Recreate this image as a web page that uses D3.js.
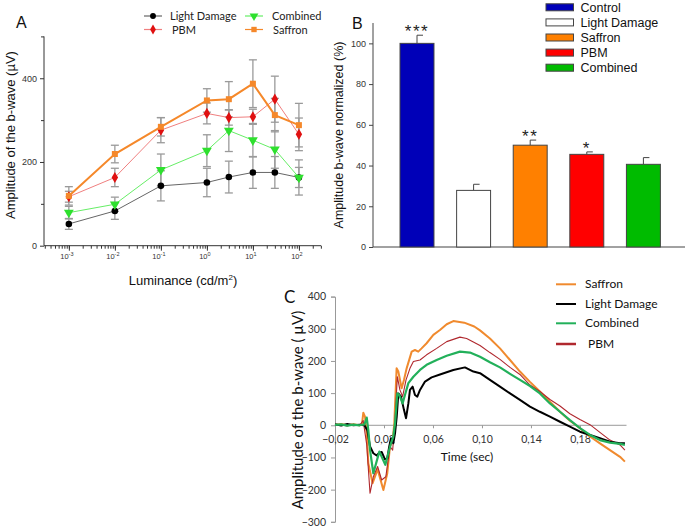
<!DOCTYPE html>
<html><head><meta charset="utf-8">
<script src="https://cdn.jsdelivr.net/npm/d3@7"></script>
<style>body{margin:0;background:#fff}svg{display:block}</style>
</head><body>
<svg id="c" width="689" height="529"></svg>
<script>
// ---------- Panel A data ----------
const luminance = [0.001, 0.01, 0.1, 1, 3, 10, 30, 100];
const decadeTicks = [-3, -2, -1, 0, 1, 2];
const ldA = [52, 83, 143, 151, 164, 175, 175, 163];
const ldErr = [13, 20, 36, 34, 38, 38, 38, 42];
const pbmA = [117, 163, 276, 316, 306, 308, 350, 266];
const pbmErr = [13, 22, 30, 25, 18, 18, 55, 39];
const combA = [79, 99, 181, 227, 275, 252, 230, 163];
const combErr = [15, 17, 38, 38, 50, 40, 45, 24];
const saffA = [119, 219, 284, 347, 350, 387, 312, 288];
const saffErr = [22, 21, 22, 28, 42, 57, 40, 52];
const yTicksA = [0, 200, 400];
const yMinorA = [100, 300, 500];

// ---------- Panel B data ----------
const groupsB = ["Control", "Light Damage", "Saffron", "PBM", "Combined"];
const valuesB = [100, 27.8, 50, 45.5, 40.6];
const errB = [4, 3, 2.5, 1.2, 3.3];
const starsB = ["***", "", "**", "*", ""];
const colorsB = ["#0000b8", "#ffffff", "#ff8000", "#ff0000", "#00bb00"];
const yTicksB = [0, 20, 40, 60, 80, 100];

// ---------- Panel C data ([time s, amplitude µV]) ----------
const saffronC = [[-0.02,2],[-0.015,4],[-0.01,0],[-0.005,3],[0,0],[0.002,2],[0.0031,39],[0.0045,27],[0.0059,-25],[0.0072,-118],[0.0107,-180],[0.0148,-137],[0.0195,-201],[0.0227,-149],[0.0249,-66],[0.0271,-46],[0.0284,6],[0.0303,177],[0.0317,167],[0.0344,115],[0.0363,141],[0.0385,177],[0.0426,229],[0.0453,234],[0.048,229],[0.0507,239],[0.0548,255],[0.0603,281],[0.0657,296],[0.0712,314],[0.0766,324],[0.0855,319],[0.0937,307],[0.0984,295],[0.1065,270],[0.1147,239],[0.1229,203],[0.131,167],[0.1392,135],[0.1473,105],[0.1555,73],[0.1637,42],[0.1718,14],[0.18,-9],[0.1882,-35],[0.1963,-56],[0.2045,-77],[0.2127,-98],[0.2167,-113]];
const lightDamageC = [[-0.02,3],[-0.015,-1],[-0.01,4],[-0.005,0],[0,2],[0.004,0],[0.0064,-15],[0.0086,-66],[0.0113,-87],[0.014,-94],[0.0162,-85],[0.0181,-83],[0.0208,-106],[0.0227,-103],[0.0243,-66],[0.0257,-40],[0.0276,-56],[0.029,-25],[0.0304,27],[0.0317,99],[0.0339,89],[0.0363,48],[0.038,22],[0.0399,68],[0.0412,110],[0.0434,120],[0.0453,94],[0.0472,89],[0.0494,110],[0.0535,136],[0.0589,149],[0.0657,158],[0.0766,172],[0.0861,180],[0.093,167],[0.0984,162],[0.1065,141],[0.1147,120],[0.1229,99],[0.131,79],[0.1392,58],[0.1473,42],[0.1555,27],[0.1637,11],[0.1718,-4],[0.18,-20],[0.1882,-30],[0.1963,-40],[0.2045,-51],[0.2127,-56],[0.2167,-56]];
const combinedC = [[-0.02,1],[-0.015,3],[-0.01,-1],[-0.005,2],[0,0],[0.004,3],[0.0059,24],[0.0072,-15],[0.0086,-77],[0.0113,-149],[0.0162,-82],[0.0211,-123],[0.0235,-87],[0.0257,-56],[0.0276,-35],[0.029,6],[0.0309,99],[0.0325,94],[0.0352,68],[0.0371,94],[0.0399,131],[0.044,151],[0.0494,172],[0.0548,188],[0.063,203],[0.0712,216],[0.082,229],[0.0902,226],[0.0984,213],[0.1065,196],[0.1147,180],[0.1229,160],[0.131,141],[0.1392,122],[0.1473,99],[0.1555,68],[0.1637,42],[0.1718,16],[0.18,-9],[0.1882,-30],[0.1963,-46],[0.2045,-54],[0.2127,-58],[0.2167,-61]];
const pbmC = [[-0.02,0],[-0.015,2],[-0.01,-2],[-0.005,3],[0,-1],[0.003,15],[0.0059,-60],[0.0086,-211],[0.0113,-160],[0.0148,-128],[0.0181,-170],[0.0215,-160],[0.0249,-66],[0.0271,-77],[0.029,17],[0.0309,151],[0.033,110],[0.0352,89],[0.038,141],[0.0412,177],[0.044,198],[0.0494,203],[0.0548,219],[0.063,239],[0.0712,260],[0.082,274],[0.0875,270],[0.0984,248],[0.1065,226],[0.1147,205],[0.1229,180],[0.131,158],[0.1392,125],[0.1473,105],[0.1555,80],[0.1637,60],[0.1718,36],[0.18,18],[0.1882,2],[0.1963,-22],[0.2045,-46],[0.2127,-61],[0.2167,-77]];
const xTicksC = [-0.02, 0.02, 0.06, 0.10, 0.14, 0.18];
const yTicksC = [400, 300, 200, 100, 0, -100, -200, -300];

const svg = d3.select("#c");
svg.append("rect").attr("width",689).attr("height",529).attr("fill","#fff");
const ARIAL = "'Liberation Sans', Arial, sans-serif";
const CALIBRI = "Lato, 'Open Sans', sans-serif";

// =================== PANEL A ===================
const xA = d3.scaleLog().domain([Math.pow(10,-3.54), Math.pow(10,2.48)]).range([44, 321]);
const yA = d3.scaleLinear().domain([0, 500]).range([245.7, 36.4]);
const gA = svg.append("g");

const axA = gA.append("g").attr("transform","translate(0,245.7)")
  .call(d3.axisBottom(xA).tickValues(xA.ticks()).tickSize(3).tickFormat(""));
axA.select(".domain").attr("d","M44,0H321");
gA.append("g").attr("transform","translate(0,245.7)")
  .call(d3.axisBottom(xA).tickValues(decadeTicks.map(d=>Math.pow(10,d))).tickSize(5).tickFormat(""))
  .select(".domain").remove();
const ayA = gA.append("g").attr("transform","translate(44,0)")
  .call(d3.axisLeft(yA).tickValues(yTicksA).tickSize(4).tickPadding(3));
ayA.select(".domain").attr("d","M0,245.7V36.4");
gA.append("g").attr("transform","translate(44,0)")
  .call(d3.axisLeft(yA).tickValues(yMinorA).tickSize(3).tickFormat(""))
  .select(".domain").remove();
gA.selectAll(".tick line, .domain").attr("stroke","#333").attr("stroke-width",1);
ayA.selectAll("text").attr("font-family",ARIAL).attr("font-size",9).attr("fill","#333");

const decLab = gA.append("g").selectAll("text").data(decadeTicks).join("text")
  .attr("x", d => xA(Math.pow(10,d)) - 2).attr("y", 259)
  .attr("text-anchor","middle").attr("font-family",ARIAL).attr("font-size",7.5).attr("fill","#333");
decLab.append("tspan").text("10");
decLab.append("tspan").attr("dy",-3).attr("font-size",5.5).text(d => d);

gA.append("text").attr("x",183).attr("y",285).attr("text-anchor","middle")
  .attr("font-family",ARIAL).attr("font-size",13).attr("fill","#111")
  .call(t => { t.append("tspan").text("Luminance (cd/m"); t.append("tspan").attr("dy",-5).attr("font-size",8).text("2"); t.append("tspan").attr("dy",5).text(")"); });
gA.append("text").attr("transform","translate(15,135) rotate(-90)").attr("text-anchor","middle")
  .attr("font-family",ARIAL).attr("font-size",13).attr("fill","#111").text("Amplitude of the b-wave (µV)");
gA.append("text").attr("x",16).attr("y",28).attr("font-family",ARIAL).attr("font-size",16).attr("fill","#111").text("A");

const seriesA = [
  {name:"Light Damage", vals:ldA, err:ldErr, line:"#666", lw:1, mark:"#000", sym:d3.symbolCircle, size:34},
  {name:"Combined", vals:combA, err:combErr, line:"#66ee66", lw:1, mark:"#2ee02e", sym:d3.symbolTriangle, size:42, rot:180},
  {name:"PBM", vals:pbmA, err:pbmErr, line:"#f07f7f", lw:1, mark:"#e01010", sym:d3.symbolDiamond, size:36},
  {name:"Saffron", vals:saffA, err:saffErr, line:"#f5882a", lw:2, mark:"#f5882a", sym:d3.symbolSquare, size:36}
];
seriesA.forEach(s => {
  const eg = gA.append("g").attr("stroke","#9a9a9a").attr("stroke-width",1.3);
  luminance.forEach((x,i) => {
    const cx = xA(x), y1 = yA(s.vals[i]+s.err[i]), y0 = yA(s.vals[i]-s.err[i]);
    eg.append("line").attr("x1",cx).attr("x2",cx).attr("y1",y1).attr("y2",y0);
    eg.append("line").attr("x1",cx-4).attr("x2",cx+4).attr("y1",y1).attr("y2",y1);
    eg.append("line").attr("x1",cx-4).attr("x2",cx+4).attr("y1",y0).attr("y2",y0);
  });
});
const lineA = d3.line().x((d,i)=>xA(luminance[i])).y(d=>yA(d));
seriesA.forEach(s => {
  gA.append("path").attr("d",lineA(s.vals)).attr("fill","none").attr("stroke",s.line).attr("stroke-width",s.lw);
});
seriesA.forEach(s => {
  gA.append("g").selectAll("path").data(s.vals).join("path")
    .attr("d", d3.symbol().type(s.sym).size(s.size))
    .attr("transform",(d,i)=>`translate(${xA(luminance[i])},${yA(d)})${s.rot?" rotate(180)":""}`)
    .attr("fill",s.mark);
});
const legA = [
  {s:seriesA[0], x:144, y:16, tx:170},
  {s:seriesA[2], x:144, y:29.5, tx:172},
  {s:seriesA[1], x:245, y:16, tx:272},
  {s:seriesA[3], x:245, y:29.5, tx:273}
];
legA.forEach(l => {
  gA.append("line").attr("x1",l.x).attr("x2",l.x+18).attr("y1",l.y).attr("y2",l.y).attr("stroke",l.s.line).attr("stroke-width",1.2);
  gA.append("path").attr("d",d3.symbol().type(l.s.sym).size(l.s.size*0.8)())
    .attr("transform",`translate(${l.x+9},${l.y})${l.s.rot?" rotate(180)":""}`).attr("fill",l.s.mark);
  gA.append("text").attr("x",l.tx).attr("y",l.y+4).attr("font-family",CALIBRI).attr("font-size",11).attr("fill","#222").text(l.s.name);
});

// =================== PANEL B ===================
const xB = d3.scaleBand().domain(groupsB).range([388.7, 671.7]).paddingInner(0.4).paddingOuter(0.2);
const yB = d3.scaleLinear().domain([0, 110]).range([247, 23]);
const gB = svg.append("g");
const ayB = gB.append("g").attr("transform","translate(373,0)")
  .call(d3.axisLeft(yB).tickValues(yTicksB).tickSize(4).tickPadding(3));
ayB.select(".domain").attr("d","M0,247V23");
ayB.selectAll("line,.domain").attr("stroke","#444");
ayB.selectAll("text").attr("font-family",ARIAL).attr("font-size",9).attr("fill","#333");
gB.append("line").attr("x1",373).attr("x2",685).attr("y1",247).attr("y2",247).attr("stroke","#444");

groupsB.forEach((g,i) => {
  const cx = xB(g) + xB.bandwidth()/2;
  gB.append("line").attr("x1",cx).attr("x2",cx).attr("y1",yB(valuesB[i])).attr("y2",yB(valuesB[i]+errB[i])).attr("stroke","#444");
  gB.append("line").attr("x1",cx).attr("x2",cx+6).attr("y1",yB(valuesB[i]+errB[i])).attr("y2",yB(valuesB[i]+errB[i])).attr("stroke","#444");
});
gB.selectAll("rect.bar").data(groupsB).join("rect").attr("class","bar")
  .attr("x",d=>xB(d)).attr("width",xB.bandwidth())
  .attr("y",(d,i)=>yB(valuesB[i])).attr("height",(d,i)=>yB(0)-yB(valuesB[i]))
  .attr("fill",(d,i)=>colorsB[i]).attr("stroke","#444").attr("stroke-width",1);
gB.selectAll("text.star").data(groupsB).join("text").attr("class","star")
  .attr("x",d=>xB(d)+xB.bandwidth()/2).attr("y",(d,i)=>yB(valuesB[i]+errB[i])+2)
  .attr("text-anchor","middle").attr("font-family",ARIAL).attr("font-size",17).attr("letter-spacing",1.5).attr("fill","#222")
  .text((d,i)=>starsB[i]);
gB.append("text").attr("transform","translate(343,135) rotate(-90)").attr("text-anchor","middle")
  .attr("font-family",ARIAL).attr("font-size",12.5).attr("fill","#111").text("Amplitude b-wave normalized (%)");
gB.append("text").attr("x",352).attr("y",29).attr("font-family",ARIAL).attr("font-size",16).attr("fill","#111").text("B");
groupsB.forEach((g,i) => {
  const y = 7.3 + i*15.1;
  gB.append("rect").attr("x",546).attr("y",y-3.5).attr("width",27.5).attr("height",7).attr("fill",colorsB[i]).attr("stroke","#444");
  gB.append("text").attr("x",580.5).attr("y",y+4.5).attr("font-family",ARIAL).attr("font-size",12.5).attr("fill","#111").text(g);
});

// =================== PANEL C ===================
const xC = d3.scaleLinear().domain([-0.02, 0.218]).range([335, 626.5]);
const yC = d3.scaleLinear().domain([-300, 400]).range([521.8, 296.6]);
const gC = svg.append("g");
const ayC = gC.append("g").attr("transform","translate(335,0)")
  .call(d3.axisLeft(yC).tickValues(yTicksC).tickSize(4).tickPadding(5).tickFormat(d3.format("d")));
ayC.selectAll("line,.domain").attr("stroke","#999");
ayC.selectAll("text").attr("font-family",CALIBRI).attr("font-size",10.5).attr("fill","#333");
const axC = gC.append("g").attr("transform",`translate(0,${yC(0)})`)
  .call(d3.axisBottom(xC).tickValues(xTicksC).tickSize(3).tickPadding(7).tickFormat(d => d3.format(".2f")(d).replace(".",",")));
axC.select(".domain").attr("d","M335,0H626.5");
axC.selectAll("line,.domain").attr("stroke","#999");
axC.selectAll("text").attr("font-family",CALIBRI).attr("font-size",10.5).attr("fill","#333");

const lineC = d3.line().x(d=>xC(d[0])).y(d=>yC(d[1]));
const seriesC = [
  {name:"Saffron", data:saffronC, color:"#f08a2e", w:2},
  {name:"PBM", data:pbmC, color:"#b0282e", w:1.1},
  {name:"Light Damage", data:lightDamageC, color:"#000", w:2},
  {name:"Combined", data:combinedC, color:"#22b05a", w:2.2}
];
seriesC.forEach(s => gC.append("path").attr("d",lineC(s.data)).attr("fill","none")
  .attr("stroke",s.color).attr("stroke-width",s.w).attr("stroke-linejoin","round"));

gC.append("text").attr("x",467).attr("y",461).attr("text-anchor","middle")
  .attr("font-family",CALIBRI).attr("font-size",12).attr("fill","#111").text("Time (sec)");
gC.append("text").attr("transform","translate(303,410) rotate(-90)").attr("text-anchor","middle")
  .attr("font-family",CALIBRI).attr("font-size",15).attr("fill","#111").text("Amplitude of the  b-wave ( µV)");
gC.append("text").attr("x",284).attr("y",303).attr("font-family",CALIBRI).attr("font-size",17).attr("fill","#111").text("C");
const legC = [seriesC[0], seriesC[2], seriesC[3], seriesC[1]];
legC.forEach((s,i) => {
  const y = [284.3, 304, 323.3, 344][i];
  gC.append("line").attr("x1",556).attr("x2",576).attr("y1",y).attr("y2",y).attr("stroke",s.color).attr("stroke-width",s.name==="PBM"?2.5:2);
  gC.append("text").attr("x",s.name==="PBM"?588:585).attr("y",y+4).attr("font-family",CALIBRI).attr("font-size",12).attr("fill","#111").text(s.name);
});
</script>
</body></html>
